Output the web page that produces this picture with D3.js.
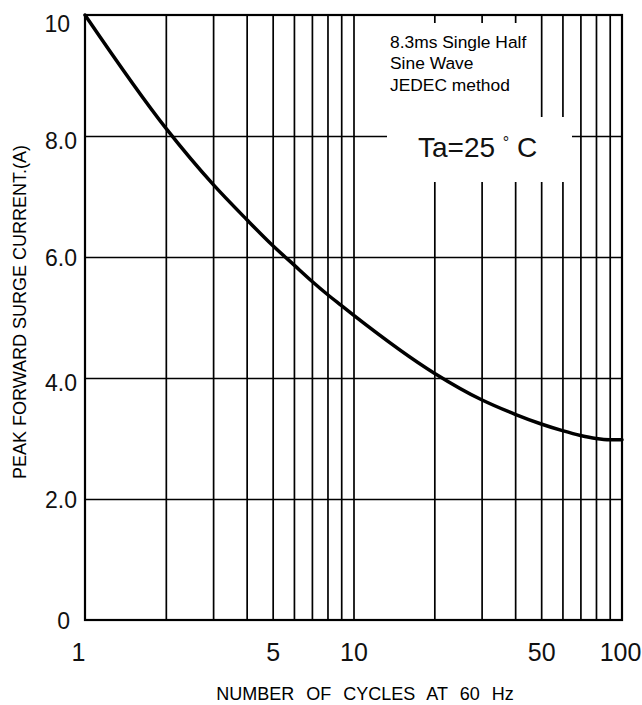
<html>
<head>
<title>Peak forward surge current</title>
<style>
body { margin: 0; background: #fff; }
svg { display: block; }
.grid line { stroke: #000; stroke-width: 1.7; }
</style>
</head>
<body>
<svg width="642" height="705"></svg>
<script src="https://d3js.org/d3.v7.min.js"></script>
<script>
// number of cycles vs surge current
const cycles = [1, 2, 3, 4, 5, 6, 7, 8, 9, 10, 20, 30, 40, 50, 60, 70, 80, 90, 100];
const current = [10.0, 8.13, 7.20, 6.62, 6.19, 5.87, 5.60, 5.38, 5.20, 5.04, 4.08, 3.64, 3.40, 3.24, 3.13, 3.05, 3.00, 2.98, 2.98];

const gridX = [2, 3, 4, 5, 6, 7, 8, 9, 10, 20, 30, 40, 50, 60, 70, 80, 90];
const gridY = [2, 4, 6, 8];
const xTicks = [1, 5, 10, 50, 100];
const xTickLabels = ["1", "5", "10", "50", "100"];
const yTicks = [0, 2, 4, 6, 8, 10];
const yTickLabels = ["0", "2.0", "4.0", "6.0", "8.0", "10"];
const noteLines = ["8.3ms Single Half", "Sine Wave", "JEDEC method"];

const pLeft = 85, pTop = 15, pRight = 622, pBottom = 620;
const svg = d3.select("svg");

const x = d3.scaleLog().domain([1, 100]).range([pLeft, pRight]);
const y = d3.scaleLinear().domain([0, 10]).range([pBottom, pTop]);

// grid
svg.append("g")
	.attr("class", "grid")
	.attr("transform", "translate(0," + pBottom + ")")
	.call(d3.axisBottom(x).tickValues(gridX).tickSize(-(pBottom - pTop)).tickFormat(""))
	.call(g => g.select(".domain").remove());

svg.append("g")
	.attr("class", "grid")
	.attr("transform", "translate(" + pLeft + ",0)")
	.call(d3.axisLeft(y).tickValues(gridY).tickSize(-(pRight - pLeft)).tickFormat(""))
	.call(g => g.select(".domain").remove());

// white patches behind the notes
svg.append("rect").attr("x", 387).attr("y", 23).attr("width", 143).attr("height", 159).attr("fill", "#fff");
svg.append("rect").attr("x", 387).attr("y", 117).attr("width", 185).attr("height", 65).attr("fill", "#fff");

// frame
svg.append("rect")
	.attr("x", pLeft).attr("y", pTop)
	.attr("width", pRight - pLeft).attr("height", pBottom - pTop)
	.attr("fill", "none").attr("stroke", "#000").attr("stroke-width", 2.2);

// curve
const line = d3.line()
	.x((d, i) => x(cycles[i]))
	.y(d => y(d))
	.curve(d3.curveMonotoneX);

svg.append("path")
	.datum(current)
	.attr("d", line)
	.attr("fill", "none")
	.attr("stroke", "#000")
	.attr("stroke-width", 3.5)
	.attr("stroke-linecap", "round");

// tick labels
const xAxis = svg.append("g")
	.attr("transform", "translate(0," + pBottom + ")")
	.call(d3.axisBottom(x).tickValues(xTicks).tickSize(0).tickPadding(0)
		.tickFormat((d, i) => xTickLabels[i]));
xAxis.select(".domain").remove();
xAxis.selectAll("text")
	.attr("y", 41)
	.attr("dy", 0)
	.attr("dx", d => d == 1 ? -7 : d == 100 ? -2 : 0)
	.style("font-family", "'Liberation Sans', Arial, sans-serif")
	.style("font-size", "25px")
	.attr("fill", "#111");

const yAxis = svg.append("g")
	.attr("transform", "translate(" + pLeft + ",0)")
	.call(d3.axisLeft(y).tickValues(yTicks).tickSize(0).tickPadding(8)
		.tickFormat((d, i) => yTickLabels[i]));
yAxis.select(".domain").remove();
yAxis.selectAll("text")
	.attr("dy", d => d == 10 ? "0.7em" : (d == 8 || d == 4) ? "0.55em" : "0.35em")
	.attr("x", d => (d == 10 || d == 0) ? -15 : -8)
	.style("font-family", "'Liberation Sans', Arial, sans-serif")
	.style("font-size", "23px")
	.attr("fill", "#111");

// axis titles
svg.append("text")
	.attr("x", 365).attr("y", 700)
	.attr("text-anchor", "middle")
	.style("font-family", "'Liberation Sans', Arial, sans-serif")
	.style("font-size", "18px")
	.style("word-spacing", "7px")
	.text("NUMBER OF CYCLES AT 60 Hz");

svg.append("text")
	.attr("transform", "translate(26,312) rotate(-90)")
	.attr("text-anchor", "middle")
	.style("font-family", "'Liberation Sans', Arial, sans-serif")
	.style("font-size", "18px")
	.text("PEAK FORWARD SURGE CURRENT.(A)");

// notes
svg.append("g").selectAll("text")
	.data(noteLines)
	.join("text")
	.attr("x", 390)
	.attr("y", (d, i) => 48 + i * 21.3)
	.style("font-family", "'Liberation Sans', Arial, sans-serif")
	.style("font-size", "17.4px")
	.text(d => d);

const ta = svg.append("text")
	.attr("x", 418).attr("y", 157)
	.style("font-family", "'Liberation Sans', Arial, sans-serif")
	.style("font-size", "28px")
	.attr("fill", "#111");
ta.append("tspan").text("Ta=25 ");
ta.append("tspan").attr("dy", -9).style("font-size", "16px").text("\u00b0");
ta.append("tspan").attr("dy", 9).text(" C");
</script>
</body>
</html>
